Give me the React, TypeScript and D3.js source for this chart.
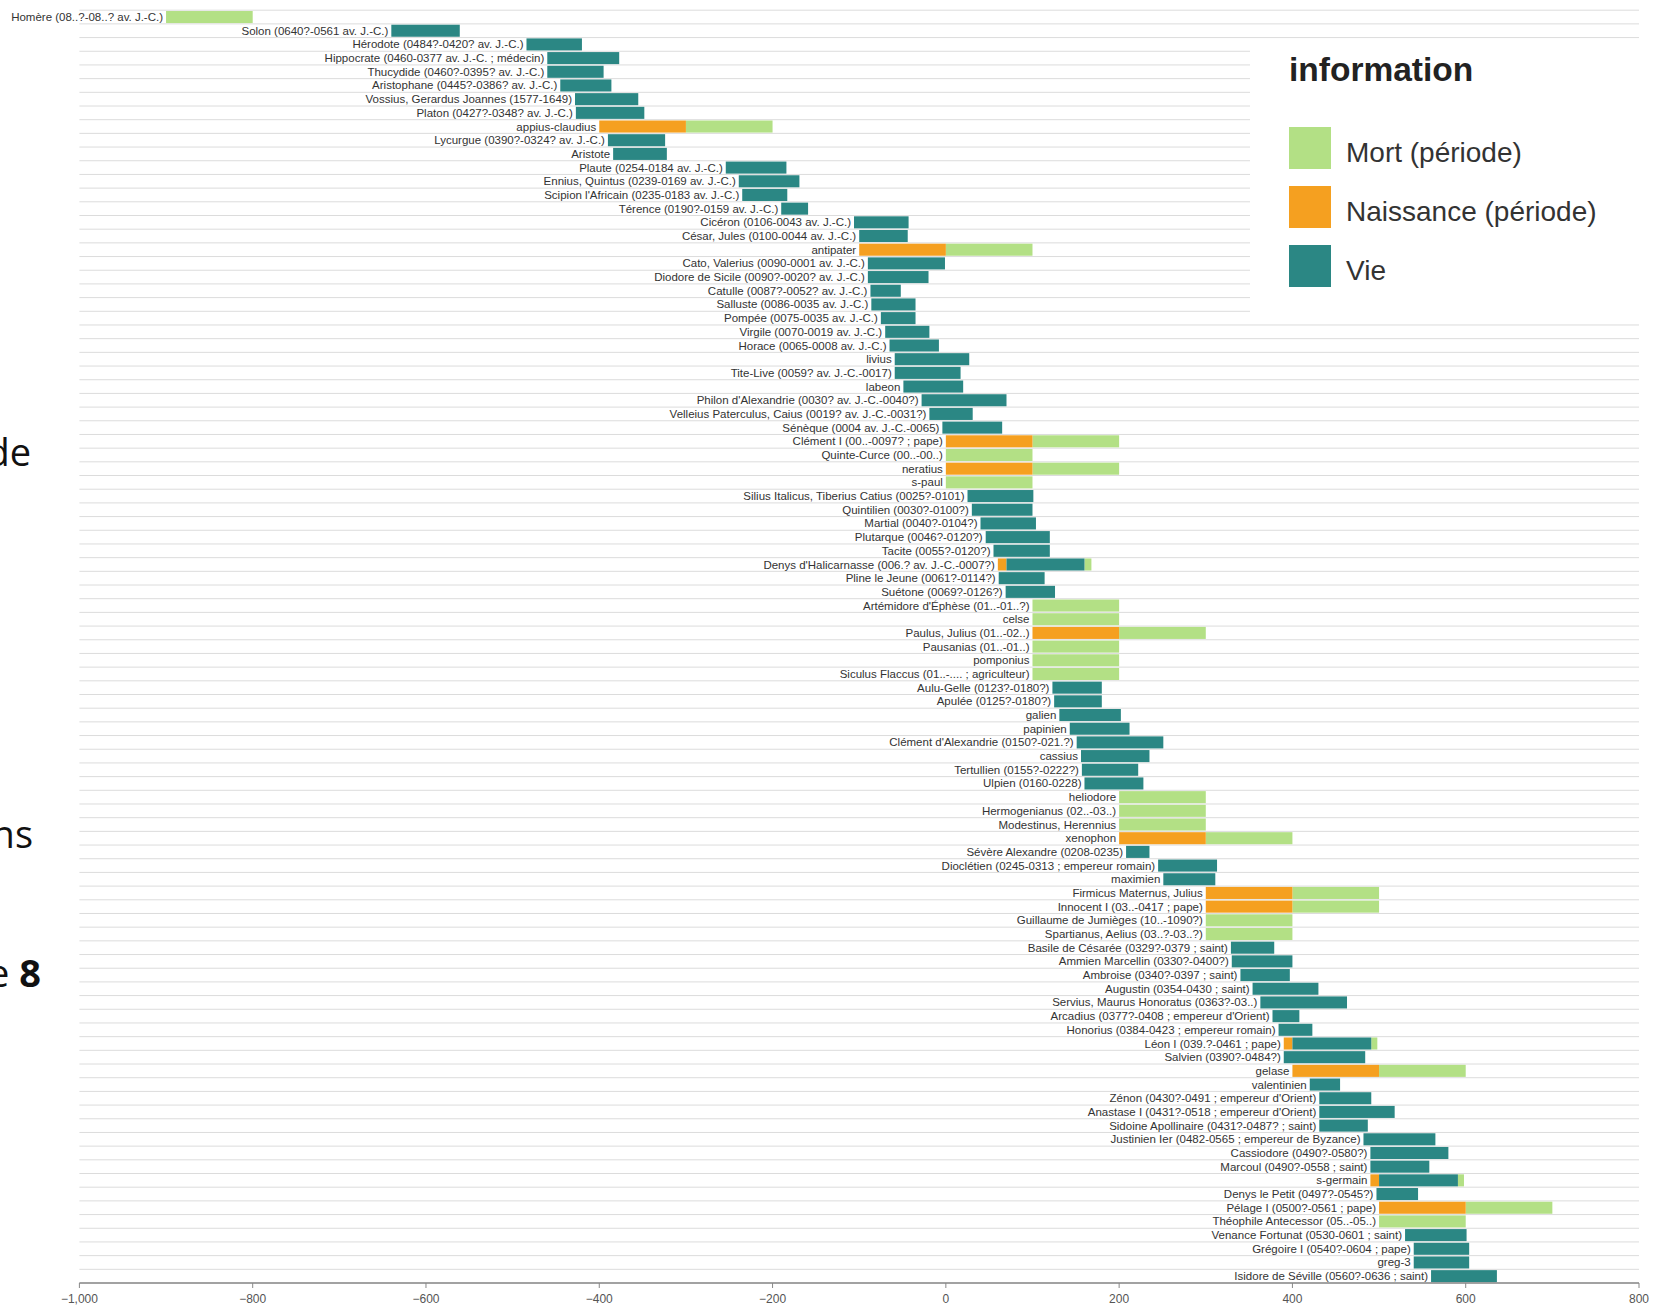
import React from "react";
import * as d3 from "d3";

const names: string[] = [
  "Homère (08..?-08..? av. J.-C.)",
  "Solon (0640?-0561 av. J.-C.)",
  "Hérodote (0484?-0420? av. J.-C.)",
  "Hippocrate (0460-0377 av. J.-C. ; médecin)",
  "Thucydide (0460?-0395? av. J.-C.)",
  "Aristophane (0445?-0386? av. J.-C.)",
  "Vossius, Gerardus Joannes (1577-1649)",
  "Platon (0427?-0348? av. J.-C.)",
  "appius-claudius",
  "Lycurgue (0390?-0324? av. J.-C.)",
  "Aristote",
  "Plaute (0254-0184 av. J.-C.)",
  "Ennius, Quintus (0239-0169 av. J.-C.)",
  "Scipion l'Africain (0235-0183 av. J.-C.)",
  "Térence (0190?-0159 av. J.-C.)",
  "Cicéron (0106-0043 av. J.-C.)",
  "César, Jules (0100-0044 av. J.-C.)",
  "antipater",
  "Cato, Valerius (0090-0001 av. J.-C.)",
  "Diodore de Sicile (0090?-0020? av. J.-C.)",
  "Catulle (0087?-0052? av. J.-C.)",
  "Salluste (0086-0035 av. J.-C.)",
  "Pompée (0075-0035 av. J.-C.)",
  "Virgile (0070-0019 av. J.-C.)",
  "Horace (0065-0008 av. J.-C.)",
  "livius",
  "Tite-Live (0059? av. J.-C.-0017)",
  "labeon",
  "Philon d'Alexandrie (0030? av. J.-C.-0040?)",
  "Velleius Paterculus, Caius (0019? av. J.-C.-0031?)",
  "Sénèque (0004 av. J.-C.-0065)",
  "Clément I (00..-0097? ; pape)",
  "Quinte-Curce (00..-00..)",
  "neratius",
  "s-paul",
  "Silius Italicus, Tiberius Catius (0025?-0101)",
  "Quintilien (0030?-0100?)",
  "Martial (0040?-0104?)",
  "Plutarque (0046?-0120?)",
  "Tacite (0055?-0120?)",
  "Denys d'Halicarnasse (006.? av. J.-C.-0007?)",
  "Pline le Jeune (0061?-0114?)",
  "Suétone (0069?-0126?)",
  "Artémidore d'Éphèse (01..-01..?)",
  "celse",
  "Paulus, Julius (01..-02..)",
  "Pausanias (01..-01..)",
  "pomponius",
  "Siculus Flaccus (01..-.... ; agriculteur)",
  "Aulu-Gelle (0123?-0180?)",
  "Apulée (0125?-0180?)",
  "galien",
  "papinien",
  "Clément d'Alexandrie (0150?-021.?)",
  "cassius",
  "Tertullien (0155?-0222?)",
  "Ulpien (0160-0228)",
  "heliodore",
  "Hermogenianus (02..-03..)",
  "Modestinus, Herennius",
  "xenophon",
  "Sévère Alexandre (0208-0235)",
  "Dioclétien (0245-0313 ; empereur romain)",
  "maximien",
  "Firmicus Maternus, Julius",
  "Innocent I (03..-0417 ; pape)",
  "Guillaume de Jumièges (10..-1090?)",
  "Spartianus, Aelius (03..?-03..?)",
  "Basile de Césarée (0329?-0379 ; saint)",
  "Ammien Marcellin (0330?-0400?)",
  "Ambroise (0340?-0397 ; saint)",
  "Augustin (0354-0430 ; saint)",
  "Servius, Maurus Honoratus (0363?-03..)",
  "Arcadius (0377?-0408 ; empereur d'Orient)",
  "Honorius (0384-0423 ; empereur romain)",
  "Léon I (039.?-0461 ; pape)",
  "Salvien (0390?-0484?)",
  "gelase",
  "valentinien",
  "Zénon (0430?-0491 ; empereur d'Orient)",
  "Anastase I (0431?-0518 ; empereur d'Orient)",
  "Sidoine Apollinaire (0431?-0487? ; saint)",
  "Justinien Ier (0482-0565 ; empereur de Byzance)",
  "Cassiodore (0490?-0580?)",
  "Marcoul (0490?-0558 ; saint)",
  "s-germain",
  "Denys le Petit (0497?-0545?)",
  "Pélage I (0500?-0561 ; pape)",
  "Théophile Antecessor (05..-05..)",
  "Venance Fortunat (0530-0601 ; saint)",
  "Grégoire I (0540?-0604 ; pape)",
  "greg-3",
  "Isidore de Séville (0560?-0636 ; saint)",
];

// [row index, start, end]
const vie: [number, number, number][] = [
  [1, -640, -561], [2, -484, -420], [3, -460, -377], [4, -460, -395], [5, -445, -386],
  [6, -428, -355], [7, -427, -348], [9, -390, -324], [10, -384, -322], [11, -254, -184],
  [12, -239, -169], [13, -235, -183], [14, -190, -159], [15, -106, -43], [16, -100, -44],
  [18, -90, -1], [19, -90, -20], [20, -87, -52], [21, -86, -35], [22, -75, -35],
  [23, -70, -19], [24, -65, -8], [25, -59, 27], [26, -59, 17], [27, -49, 20],
  [28, -28, 70], [29, -19, 31], [30, -4, 65], [35, 25, 101], [36, 30, 100],
  [37, 40, 104], [38, 46, 120], [39, 55, 120], [40, 70, 160], [41, 61, 114],
  [42, 69, 126], [49, 123, 180], [50, 125, 180], [51, 131, 202], [52, 143, 212],
  [53, 151, 251], [54, 156, 235], [55, 157, 222], [56, 160, 228], [61, 208, 235],
  [62, 245, 313], [63, 251, 311], [68, 329, 379], [69, 330, 400], [70, 340, 397],
  [71, 354, 430], [72, 363, 463], [73, 377, 408], [74, 384, 423], [75, 400, 491],
  [76, 390, 484], [78, 420, 455], [79, 431, 491], [80, 431, 518], [81, 431, 487],
  [82, 482, 565], [83, 490, 580], [84, 490, 558], [85, 500, 591], [86, 497, 545],
  [89, 530, 601], [90, 540, 604], [91, 540, 604], [92, 560, 636],
];

const naissance: [number, number, number][] = [
  [8, -400, -300], [17, -100, 0], [31, 0, 100], [33, 0, 100], [40, 60, 70],
  [45, 100, 200], [60, 200, 300], [64, 300, 400], [65, 300, 400], [75, 390, 400],
  [77, 400, 500], [85, 490, 500], [87, 500, 600],
];

const mort: [number, number, number][] = [
  [0, -900, -800], [8, -300, -200], [17, 0, 100], [31, 100, 200], [32, 0, 100],
  [33, 100, 200], [34, 0, 100], [40, 160, 168], [43, 100, 200], [44, 100, 200],
  [45, 200, 300], [46, 100, 200], [47, 100, 200], [48, 100, 200], [57, 200, 300],
  [58, 200, 300], [59, 200, 300], [60, 300, 400], [64, 400, 500], [65, 400, 500],
  [66, 300, 400], [67, 300, 400], [75, 491, 498], [77, 500, 600], [85, 591, 598],
  [87, 600, 700], [88, 500, 600],
];

const xTicks = [-1000, -800, -600, -400, -200, 0, 200, 400, 600, 800];
const legendItems = ["Mort (période)", "Naissance (période)", "Vie"];
const legendColors = ["#b3e085", "#f5a020", "#2b8784"];

export default function App() {
  const W = 1659, H = 1305;
  const x = d3.scaleLinear().domain([-1000, 800]).range([79.4, 1639]);
  const y = d3.scaleBand<number>().domain(d3.range(names.length)).range([10.2, 1283]).paddingInner(0.12).paddingOuter(0.06);
  const bw = y.bandwidth();
  const fmt = d3.format(",");

  const starts = names.map((_, i) => {
    const all = [...vie, ...naissance, ...mort].filter((s) => s[0] === i).map((s) => s[1]);
    return d3.min(all) as number;
  });

  const seg = (arr: [number, number, number][], color: string, key: string) =>
    arr.map(([i, s, e], k) => (
      <rect key={key + k} x={x(s)} y={y(i)!} width={x(e) - x(s)} height={bw} fill={color} />
    ));

  const lineYs = d3.range(names.length + 1).map((k) => 10.2 + k * ((1283 - 10.2) / names.length));

  return (
    <svg width={W} height={H} style={{ position: "absolute", left: 0, top: 0, background: "#fff" }}
      fontFamily="'Liberation Sans', Arial, sans-serif">
      <rect x={0} y={0} width={W} height={H} fill="#fff" />
      {lineYs.map((ly, k) => (
        <line key={"g" + k} x1={79.4} x2={1639} y1={ly} y2={ly} stroke="#dcdcdc" strokeWidth={1} />
      ))}
      {seg(mort, legendColors[0], "m")}
      {seg(naissance, legendColors[1], "n")}
      {seg(vie, legendColors[2], "v")}
      {names.map((n, i) => (
        <text key={"t" + i} x={x(starts[i]) - 3} y={y(i)! + bw / 2} dy="0.35em" textAnchor="end"
          fontSize={11.5} fill="#333">{n}</text>
      ))}
      {/* axis */}
      <line x1={x(-1000)} x2={x(800)} y1={1283} y2={1283} stroke="#888" strokeWidth={1.5} />
      {xTicks.map((t) => (
        <g key={"xt" + t}>
          <line x1={x(t)} x2={x(t)} y1={1283} y2={1288} stroke="#888" />
          <text x={x(t)} y={1299} dy="0.35em" textAnchor="middle" fontSize={12} fill="#555">
            {fmt(t).replace("-", "\u2212")}
          </text>
        </g>
      ))}
      {/* legend */}
      <rect x={1250} y={46} width={409} height={272} fill="#fff" />
      <text x={1289} y={81} fontSize={33.5} fontWeight="bold" fill="#222">information</text>
      {legendItems.map((l, k) => (
        <g key={"l" + k}>
          <rect x={1289} y={127 + k * 59} width={42} height={42} fill={legendColors[k]} />
          <text x={1346} y={152 + k * 59} dy="0.35em" fontSize={28} fill="#333">{l}</text>
        </g>
      ))}
      {/* slide fragments */}
      <g fontFamily="'Open Sans', sans-serif" fontSize={38} fill="#111">
        <text x={31} y={466} textAnchor="end">de</text>
        <text x={33} y={848} textAnchor="end">ns</text>
        <text x={41} y={987} textAnchor="end">e <tspan fontWeight="bold">8</tspan></text>
      </g>
    </svg>
  );
}
